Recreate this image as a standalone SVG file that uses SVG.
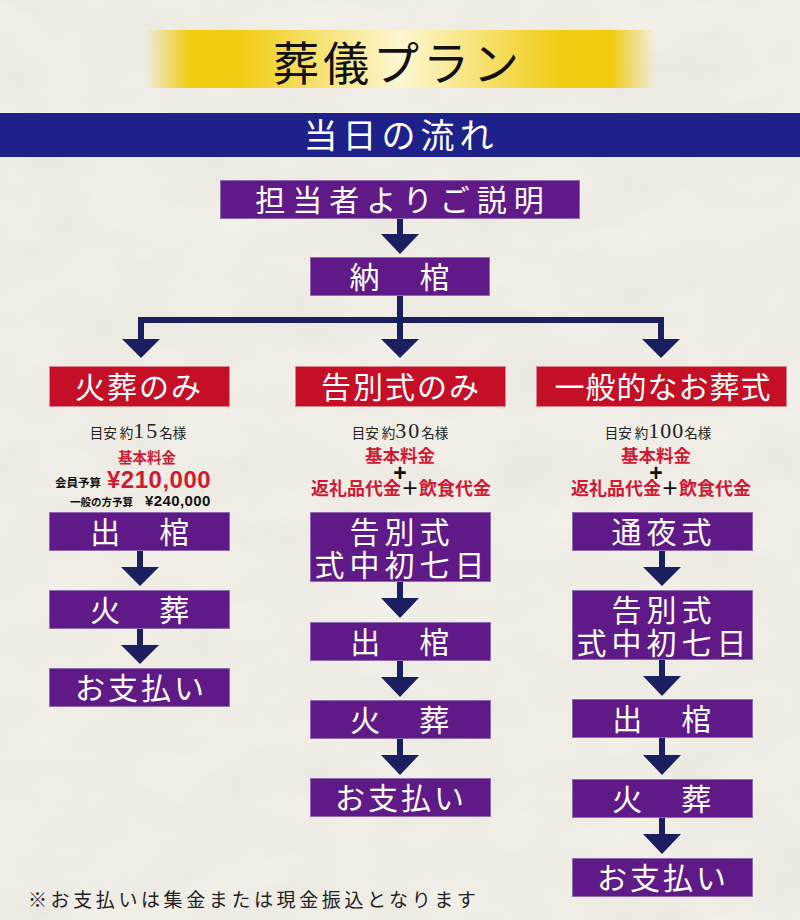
<svg xmlns="http://www.w3.org/2000/svg" width="800" height="920" viewBox="0 0 800 920">
<defs>
  <linearGradient id="gold" x1="0" y1="0" x2="1" y2="0">
    <stop offset="0" stop-color="#f1c900" stop-opacity="0"/>
    <stop offset="0.09" stop-color="#f1c900" stop-opacity="0.95"/>
    <stop offset="0.18" stop-color="#f1cb10"/>
    <stop offset="0.5" stop-color="#fdf7d2"/>
    <stop offset="0.82" stop-color="#f1cb10"/>
    <stop offset="0.91" stop-color="#f1c900" stop-opacity="0.95"/>
    <stop offset="1" stop-color="#f1c900" stop-opacity="0"/>
  </linearGradient>
  <filter id="paper" x="0" y="0" width="100%" height="100%">
    <feTurbulence type="fractalNoise" baseFrequency="0.012 0.02" numOctaves="3" seed="7" result="n"/>
    <feColorMatrix type="matrix" values="0 0 0 0 0.55  0 0 0 0 0.52  0 0 0 0 0.45  0 0 0 0.22 0" in="n"/>
  </filter>
  <style>
    .step { fill: #5f1a87; stroke: #8e6bb0; stroke-width: 1; }
    .plan { fill: #c40f26; stroke: #d9868f; stroke-width: 1; }
    .bt { fill: #ffffff; font-family: "Noto Sans CJK JP", sans-serif; font-size: 30px; text-anchor: middle; }
    .arrow { fill: #1b1f5f; }
    .note { fill: #222; font-family: "Noto Sans CJK JP", sans-serif; }
    .red { fill: #cf1a33; font-family: "Noto Sans CJK JP", sans-serif; font-weight: bold; }
    .blk { fill: #111; font-family: "Noto Sans CJK JP", sans-serif; font-weight: bold; }
    .num { font-family: "Liberation Serif", serif; }
    .price { font-family: "Liberation Sans", sans-serif; font-weight: bold; }
  </style>
</defs>

<rect x="0" y="0" width="800" height="920" fill="#f4f2eb"/>
<rect x="0" y="0" width="800" height="920" filter="url(#paper)"/>

<g id="title">
  <rect x="145" y="30" width="511" height="58" fill="url(#gold)"/>
  <text x="398" y="80" font-family="Noto Sans CJK JP, sans-serif" font-size="46" letter-spacing="4" text-anchor="middle" fill="#111">葬儀プラン</text>
</g>

<g id="subtitle">
  <rect x="0" y="113" width="800" height="44" fill="#1e2189"/>
  <text x="401" y="148" font-family="Noto Sans CJK JP, sans-serif" font-size="34" letter-spacing="5" text-anchor="middle" fill="#ffffff">当日の流れ</text>
</g>

<g id="connectors">
  <rect class="arrow" x="397" y="218" width="6" height="17"/>
  <polygon class="arrow" points="381,234 419,234 400,254"/>
  <rect class="arrow" x="397" y="296" width="6" height="44"/>
  <rect class="arrow" x="138" y="317" width="526" height="6"/>
  <rect class="arrow" x="138" y="317" width="6" height="23"/>
  <rect class="arrow" x="658" y="317" width="6" height="23"/>
  <polygon class="arrow" points="122,339 160,339 141,358"/>
  <polygon class="arrow" points="381,339 419,339 400,358"/>
  <polygon class="arrow" points="642,339 680,339 661,358"/>
  <rect class="arrow" x="137" y="550" width="6" height="18"/>
  <polygon class="arrow" points="121,567 159,567 140,586"/>
  <rect class="arrow" x="137" y="628" width="6" height="18"/>
  <polygon class="arrow" points="121,645 159,645 140,664"/>
  <rect class="arrow" x="397" y="581" width="6" height="18"/>
  <polygon class="arrow" points="381,598 419,598 400,618"/>
  <rect class="arrow" x="397" y="660" width="6" height="18"/>
  <polygon class="arrow" points="381,677 419,677 400,697"/>
  <rect class="arrow" x="397" y="738" width="6" height="18"/>
  <polygon class="arrow" points="381,755 419,755 400,775"/>
  <rect class="arrow" x="659" y="550" width="6" height="18"/>
  <polygon class="arrow" points="643,567 681,567 662,586"/>
  <rect class="arrow" x="659" y="659" width="6" height="18"/>
  <polygon class="arrow" points="643,676 681,676 662,696"/>
  <rect class="arrow" x="659" y="737" width="6" height="19"/>
  <polygon class="arrow" points="643,755 681,755 662,775"/>
  <rect class="arrow" x="659" y="817" width="6" height="18"/>
  <polygon class="arrow" points="643,834 681,834 662,854"/>
</g>

<g id="n-explain">
  <rect class="step" x="220.5" y="180.5" width="359" height="38"/>
  <text class="bt" x="403" y="211" letter-spacing="7">担当者よりご説明</text>
</g>
<g id="n-nokan">
  <rect class="step" x="310.5" y="257.5" width="179" height="38"/>
  <text class="bt" x="402" y="288" letter-spacing="5">納　棺</text>
</g>

<g id="n-kaso-only">
  <rect class="plan" x="49.5" y="366.5" width="180" height="40"/>
  <text class="bt" x="139" y="398" letter-spacing="2">火葬のみ</text>
</g>
<g id="n-kokubetsu-only">
  <rect class="plan" x="295.5" y="366.5" width="210" height="40"/>
  <text class="bt" x="401" y="398" letter-spacing="2">告別式のみ</text>
</g>
<g id="n-ippan">
  <rect class="plan" x="536.5" y="366.5" width="250" height="40"/>
  <text class="bt" x="663" y="398" letter-spacing="1">一般的なお葬式</text>
</g>

<g id="info-left">
  <text x="138" y="438" text-anchor="middle" class="note" font-size="13.5">目安 約<tspan class="num" font-size="22" letter-spacing="2">15</tspan>名様</text>
  <text x="147" y="463" text-anchor="middle" class="red" font-size="14.5">基本料金</text>
  <text x="55" y="487" class="blk" font-size="11.5">会員予算</text>
  <text x="107" y="488" class="price" font-size="24" letter-spacing="0.5" fill="#cf1a33">¥210,000</text>
  <text x="70" y="506" class="blk" font-size="10.5">一般の方予算</text>
  <text x="145" y="506" class="price" font-size="15" letter-spacing="0.4" fill="#111">¥240,000</text>
</g>

<g id="info-middle">
  <text x="400" y="438" text-anchor="middle" class="note" font-size="13.5">目安 約<tspan class="num" font-size="22" letter-spacing="2">30</tspan>名様</text>
  <text x="400" y="462" text-anchor="middle" class="red" font-size="17.5">基本料金</text>
  <text x="400" y="481" text-anchor="middle" class="price" font-size="23" fill="#111">+</text>
  <text x="401" y="495" text-anchor="middle" class="red" font-size="18">返礼品代金<tspan fill="#111">＋</tspan>飲食代金</text>
</g>

<g id="info-right">
  <text x="658" y="438" text-anchor="middle" class="note" font-size="13.5">目安 約<tspan class="num" font-size="22" letter-spacing="1">100</tspan>名様</text>
  <text x="656" y="462" text-anchor="middle" class="red" font-size="17.5">基本料金</text>
  <text x="656" y="481" text-anchor="middle" class="price" font-size="23" fill="#111">+</text>
  <text x="661" y="495" text-anchor="middle" class="red" font-size="18">返礼品代金<tspan fill="#111">＋</tspan>飲食代金</text>
</g>

<g id="l-shukkan">
  <rect class="step" x="49.5" y="512.5" width="180" height="38"/>
  <text class="bt" x="142" y="543" letter-spacing="4.5">出　棺</text>
</g>
<g id="l-kaso">
  <rect class="step" x="49.5" y="590.5" width="180" height="38"/>
  <text class="bt" x="142" y="621" letter-spacing="4.5">火　葬</text>
</g>
<g id="l-pay">
  <rect class="step" x="49.5" y="668.5" width="180" height="38"/>
  <text class="bt" x="141" y="699" letter-spacing="3">お支払い</text>
</g>

<g id="m-kokubetsu">
  <rect class="step" x="310.5" y="512.5" width="180" height="69"/>
  <text class="bt" x="402" y="543" letter-spacing="5">告別式</text>
  <text class="bt" x="402" y="576" letter-spacing="5">式中初七日</text>
</g>
<g id="m-shukkan">
  <rect class="step" x="310.5" y="622.5" width="180" height="38"/>
  <text class="bt" x="402" y="653" letter-spacing="4.5">出　棺</text>
</g>
<g id="m-kaso">
  <rect class="step" x="310.5" y="700.5" width="180" height="38"/>
  <text class="bt" x="402" y="731" letter-spacing="4.5">火　葬</text>
</g>
<g id="m-pay">
  <rect class="step" x="310.5" y="778.5" width="180" height="38"/>
  <text class="bt" x="401" y="809" letter-spacing="3">お支払い</text>
</g>

<g id="r-tsuya">
  <rect class="step" x="572.5" y="512.5" width="180" height="38"/>
  <text class="bt" x="664" y="543" letter-spacing="5">通夜式</text>
</g>
<g id="r-kokubetsu">
  <rect class="step" x="572.5" y="590.5" width="180" height="69"/>
  <text class="bt" x="664" y="621" letter-spacing="5">告別式</text>
  <text class="bt" x="664" y="654" letter-spacing="5">式中初七日</text>
</g>
<g id="r-shukkan">
  <rect class="step" x="572.5" y="699.5" width="180" height="38"/>
  <text class="bt" x="664" y="730" letter-spacing="4.5">出　棺</text>
</g>
<g id="r-kaso">
  <rect class="step" x="572.5" y="779.5" width="180" height="38"/>
  <text class="bt" x="664" y="810" letter-spacing="4.5">火　葬</text>
</g>
<g id="r-pay">
  <rect class="step" x="572.5" y="858.5" width="180" height="38"/>
  <text class="bt" x="663" y="889" letter-spacing="3">お支払い</text>
</g>

<text x="28" y="907" class="note" font-size="19" letter-spacing="3.6">※お支払いは集金または現金振込となります</text>
</svg>
